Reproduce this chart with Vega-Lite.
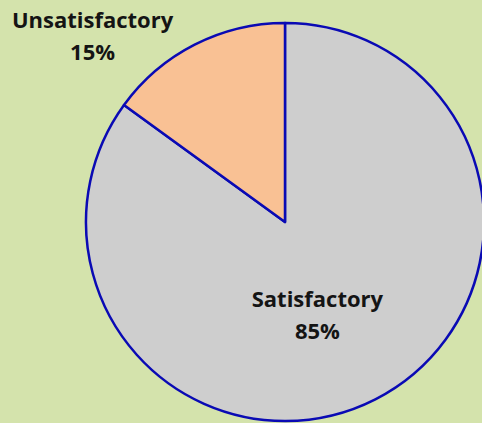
{
  "$schema": "https://vega.github.io/schema/vega-lite/v6.json",
  "autosize": "none",
  "width": 394,
  "height": 402,
  "padding": {"left": 88, "top": 21, "right": 0, "bottom": 0},
  "background": "#d4e3ac",
  "view": {"stroke": null},
  "data": {"values": [
    {"category": "Satisfactory", "value": 85},
    {"category": "Unsatisfactory", "value": 15}
  ]},
  "transform": [
    {"calculate": "[datum.category, datum.value + '%']", "as": "label"}
  ],
  "encoding": {
    "theta": {"field": "value", "type": "quantitative", "stack": true},
    "order": {"field": "category", "sort": "ascending"}
  },
  "layer": [
    {
      "mark": {"type": "arc", "radius": 199, "stroke": "#0a0ab4", "strokeWidth": 2.5, "strokeJoin": "round"},
      "encoding": {
        "color": {"field": "category", "type": "nominal",
          "scale": {"domain": ["Satisfactory", "Unsatisfactory"], "range": ["#cecece", "#f9c194"]},
          "legend": null}
      }
    },
    {
      "mark": {"type": "text", "radius": 100, "dx": -13, "dy": -11, "font": "Open Sans", "fontWeight": "bold", "fontSize": 22, "lineHeight": 32, "color": "#141414", "baseline": "middle", "align": "center"},
      "encoding": {"text": {"condition": {"test": "datum.category === 'Satisfactory'", "field": "label"}, "value": ""}}
    },
    {
      "mark": {"type": "text", "radius": 208, "dx": -98, "dy": -16, "font": "Open Sans", "fontWeight": "bold", "fontSize": 22, "lineHeight": 32, "color": "#141414", "baseline": "middle", "align": "center"},
      "encoding": {"text": {"condition": {"test": "datum.category === 'Unsatisfactory'", "field": "label"}, "value": ""}}
    }
  ]
}
